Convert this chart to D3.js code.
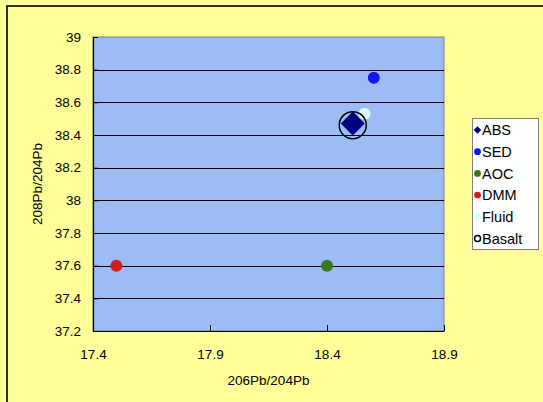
<!DOCTYPE html>
<html>
<head>
<meta charset="utf-8">
<script src="https://cdn.jsdelivr.net/npm/d3@7"></script>
<style>
  html, body { margin: 0; padding: 0; background: #FFFF99; }
  svg { display: block; }
  text { font-family: "Liberation Sans", Arial, sans-serif; fill: #000; }
</style>
</head>
<body>
<script>
// Pb isotope end-members
const seriesNames = ["ABS", "SED", "AOC", "DMM", "Fluid", "Basalt"];
const pb206 = [18.51, 18.60, 18.40, 17.50, 18.56, 18.51];
const pb208 = [38.47, 38.75, 37.60, 37.60, 38.53, 38.46];
const xTicks = [17.4, 17.9, 18.4, 18.9];
const yTicks = [37.2, 37.4, 37.6, 37.8, 38, 38.2, 38.4, 38.6, 38.8, 39];
const xTitle = "206Pb/204Pb";
const yTitle = "208Pb/204Pb";

// marker styling per series
const style = {
  ABS:    { shape: "diamond", fill: "#000080", size: 12, legendSize: 3.8 },
  SED:    { shape: "circle", fill: "#1414F5", size: 6, legendSize: 3.4 },
  AOC:    { shape: "circle", fill: "#3A761E", size: 6, legendSize: 3.4 },
  DMM:    { shape: "circle", fill: "#CF1F1F", size: 6, legendSize: 3.4 },
  Fluid:  { shape: "circle", fill: "#DDFBFF", size: 6, legendSize: 3.4 },
  Basalt: { shape: "ring", fill: "none", size: 13.5, legendSize: 3 }
};
const drawOrder = ["Fluid", "SED", "AOC", "DMM", "ABS", "Basalt"];

const W = 543, H = 402;
const plot = { left: 93, right: 444, top: 37, bottom: 331 };

const svg = d3.select("body").append("svg").attr("width", W).attr("height", H);

svg.append("rect").attr("width", W).attr("height", H).attr("fill", "#FFFF99");
// chart frame
svg.append("rect").attr("x", 7).attr("y", 6).attr("width", W + 20).attr("height", H + 20)
  .attr("fill", "#FFFF99").attr("stroke", "#000").attr("stroke-width", 1.6);

const x = d3.scaleLinear().domain([17.4, 18.9]).range([plot.left, plot.right]);
const y = d3.scaleLinear().domain([37.2, 39]).range([plot.bottom, plot.top]);

// plot area
svg.append("rect")
  .attr("x", plot.left).attr("y", plot.top)
  .attr("width", plot.right - plot.left).attr("height", plot.bottom - plot.top)
  .attr("fill", "#9CBCF6").attr("stroke", "#808080").attr("stroke-width", 1);

// horizontal gridlines
svg.append("g").selectAll("line")
  .data(yTicks.filter(v => v > 37.2 && v < 39))
  .join("line")
  .attr("x1", plot.left).attr("x2", plot.right)
  .attr("y1", d => Math.round(y(d)) + 0.5).attr("y2", d => Math.round(y(d)) + 0.5)
  .attr("stroke", "#000").attr("stroke-width", 1);

// axes
const xAxis = svg.append("g")
  .attr("transform", `translate(0,${plot.bottom})`)
  .call(d3.axisBottom(x).tickValues(xTicks).tickFormat(d => String(d))
    .tickSizeInner(-6).tickSizeOuter(0).tickPadding(18));
const yAxis = svg.append("g")
  .attr("transform", `translate(${plot.left},0)`)
  .call(d3.axisLeft(y).tickValues(yTicks).tickFormat(d => String(d))
    .tickSizeInner(-5).tickSizeOuter(0).tickPadding(12));
[xAxis, yAxis].forEach(g => {
  g.selectAll("text").style("font-size", "13.5px").style("font-family", "'Liberation Sans', Arial, sans-serif").attr("fill", "#000");
  g.selectAll("line").attr("stroke", "#000");
  g.select(".domain").attr("stroke", "#000").attr("stroke-width", 1.2);
});

// axis titles
svg.append("text")
  .attr("x", (plot.left + plot.right) / 2).attr("y", 385)
  .attr("text-anchor", "middle").style("font-size", "13.5px").text(xTitle);
svg.append("text")
  .attr("transform", `translate(42,${(plot.top + plot.bottom) / 2}) rotate(-90)`)
  .attr("text-anchor", "middle").style("font-size", "13.5px").text(yTitle);

function drawMarker(g, s, cx, cy, r) {
  if (s.shape === "diamond") {
    g.append("path")
      .attr("d", `M${cx},${cy - r}L${cx + r},${cy}L${cx},${cy + r}L${cx - r},${cy}Z`)
      .attr("fill", s.fill);
  } else if (s.shape === "ring") {
    g.append("circle").attr("cx", cx).attr("cy", cy).attr("r", r)
      .attr("fill", "none").attr("stroke", "#000").attr("stroke-width", 1.5);
  } else {
    g.append("circle").attr("cx", cx).attr("cy", cy).attr("r", r).attr("fill", s.fill);
  }
}

// data points
const pts = svg.append("g");
drawOrder.forEach(name => {
  const i = seriesNames.indexOf(name);
  drawMarker(pts, style[name], x(pb206[i]), y(pb208[i]), style[name].size);
});

// legend
const legend = svg.append("g");
legend.append("rect").attr("x", 472.5).attr("y", 118.5).attr("width", 66).attr("height", 131)
  .attr("fill", "#FFFFFF").attr("stroke", "#808080");
seriesNames.forEach((name, i) => {
  const cy = 130 + i * 21.7;
  drawMarker(legend, style[name], 477.5, cy, style[name].legendSize);
  legend.append("text").attr("x", 482).attr("y", cy + 5.2)
    .style("font-size", "14.5px").text(name);
});
</script>
</body>
</html>
